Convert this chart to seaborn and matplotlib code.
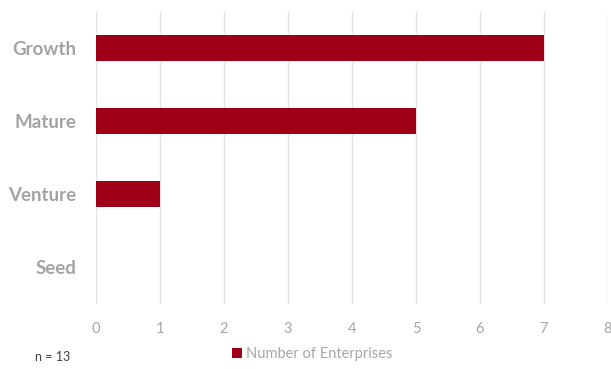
import matplotlib
matplotlib.use("Agg")
import matplotlib.pyplot as plt
import seaborn as sns
import pandas as pd
from matplotlib.patches import Patch

categories = ["Growth", "Mature", "Venture", "Seed"]
values = [7, 5, 1, 0]
series_name = "Number of Enterprises"
x_ticks = [0, 1, 2, 3, 4, 5, 6, 7, 8]

sns.set_style("white")
plt.rcParams['font.family'] = ['Lato', 'DejaVu Sans']

df = pd.DataFrame({"Stage": categories, "Count": values})

fig = plt.figure(figsize=(6.11, 3.69), dpi=100)
ax = fig.add_axes([96/611, 1-303.5/369, (608-96)/611, 292/369])
bar_color = "#9E0018"
sns.barplot(data=df, y="Stage", x="Count", order=categories, color=bar_color,
            width=0.36, ax=ax, saturation=1, edgecolor="none", linewidth=0)
ax.set_xlim(0, 8)
ax.set_ylim(3.5, -0.5)
ax.set_xticks(x_ticks)
ax.set_xticklabels([str(t) for t in x_ticks], color="#A6A6A6", fontsize=10.5)
ax.grid(axis="x", color="#E3E3E3", linewidth=1)
ax.set_axisbelow(True)
for s in ax.spines.values():
    s.set_visible(False)
ax.tick_params(axis="x", length=5, color="#E3E3E3", pad=8)
ax.tick_params(axis="y", length=0, pad=14)
for lbl in ax.get_yticklabels():
    lbl.set_fontweight("bold")
    lbl.set_color("#A3A3A3")
    lbl.set_fontsize(13.5)
ax.set_xlabel("")
ax.set_ylabel("")

handles = [Patch(facecolor=bar_color, edgecolor="none", label=series_name)]
fig.legend(handles=handles, loc="center", bbox_to_anchor=(312/611, 1-354/369),
           frameon=False, fontsize=10.5, handlelength=0.7, handleheight=0.7,
           handletextpad=0.3, labelcolor="#A6A6A6")
fig.text(35/611, 1-357/369, "n = 13", fontsize=9, color="#404040", va="center")

fig.savefig("out.png", dpi=100)
